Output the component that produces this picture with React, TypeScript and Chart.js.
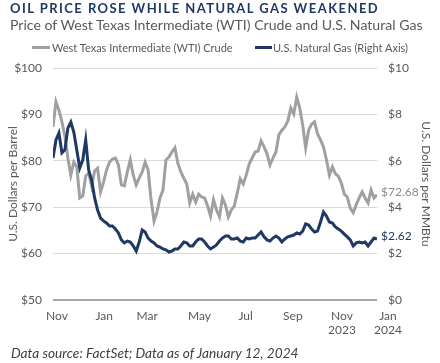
import React, { useEffect, useRef } from "react";
import { Chart, registerables } from "chart.js";

Chart.register(...registerables);

const TITLE = "OIL PRICE ROSE WHILE NATURAL GAS WEAKENED";
const SUBTITLE = "Price of West Texas Intermediate (WTI) Crude and U.S. Natural Gas";
const FOOTNOTE = "Data source: FactSet; Data as of January 12, 2024";
const seriesNames = ["West Texas Intermediate (WTI) Crude", "U.S. Natural Gas (Right Axis)"];
const leftAxisTitle = "U.S. Dollars per Barrel";
const rightAxisTitle = "U.S. Dollars per MMBtu";

// WTI crude, $/barrel (sampled roughly every 4 days, Nov 2022 – Jan 12, 2024)
const wtiCrude = [
  87.3, 92.7, 90.9, 88.4, 85.3, 80.6, 76.9, 79.7, 78.7, 72.0,
  72.4, 76.7, 77.4, 74.6, 77.8, 78.4, 73.3, 75.4, 78.0, 79.7,
  80.4, 80.6, 79.1, 74.8, 74.6, 77.6, 80.2, 76.9, 74.8, 76.3,
  77.6, 79.7, 78.0, 71.6, 67.0, 69.0, 72.0, 73.7, 80.2, 80.8,
  81.9, 82.8, 79.5, 77.6, 76.3, 75.0, 70.9, 72.8, 71.1, 72.8,
  72.2, 72.0, 70.3, 68.1, 71.6, 69.4, 67.9, 72.0, 70.5, 67.9,
  69.4, 70.3, 73.1, 76.1, 75.0, 76.9, 79.3, 80.6, 81.9, 82.1,
  84.3, 83.0, 81.5, 79.1, 80.6, 81.9, 85.6, 86.6, 87.3, 88.6,
  91.4, 90.1, 93.7, 91.4, 87.7, 82.8, 86.6, 87.9, 88.4, 85.8,
  84.5, 83.0, 80.2, 76.9, 78.7, 77.2, 76.7, 75.2, 72.8, 72.2,
  69.8, 68.8, 70.5, 72.0, 73.3, 72.0, 70.9, 73.7, 72.0, 72.68,
];

// U.S. natural gas, $/MMBtu (same sampling)
const natGas = [
  6.12, 6.90, 7.20, 6.34, 6.47, 7.41, 7.67, 7.24, 6.47, 5.69,
  6.03, 6.90, 5.60, 5.17, 4.40, 3.88, 3.53, 3.41, 3.32, 3.19,
  3.19, 3.06, 2.89, 2.59, 2.46, 2.54, 2.50, 2.33, 2.11, 2.50,
  3.02, 2.93, 2.67, 2.54, 2.46, 2.33, 2.28, 2.20, 2.16, 2.07,
  2.11, 2.20, 2.20, 2.33, 2.50, 2.46, 2.33, 2.33, 2.50, 2.63,
  2.63, 2.50, 2.33, 2.20, 2.28, 2.37, 2.54, 2.67, 2.76, 2.76,
  2.63, 2.63, 2.67, 2.54, 2.50, 2.67, 2.63, 2.67, 2.67, 2.80,
  2.93, 2.72, 2.59, 2.54, 2.67, 2.76, 2.67, 2.50, 2.63, 2.72,
  2.76, 2.80, 2.89, 2.84, 2.97, 3.28, 3.23, 3.06, 2.93, 2.97,
  3.36, 3.79, 3.62, 3.36, 3.32, 3.15, 3.06, 2.97, 2.84, 2.72,
  2.59, 2.33, 2.46, 2.50, 2.46, 2.50, 2.33, 2.50, 2.67, 2.62,
];

const xTickLabels = [["Nov"], ["Jan"], ["Mar"], ["May"], ["Jul"], ["Sep"], ["Nov", "2023"], ["Jan", "2024"]];
const xTickIndex = [1.35, 17.2, 31.7, 49.3, 64.8, 80.7, 97.2, 112.7];

const GRAY = "#a0a0a2";
const NAVY = "#1f3864";
const TEXT = "#595959";
const FONT = "Lato, 'Open Sans', sans-serif";

export default function App() {
  const ref = useRef<HTMLCanvasElement | null>(null);

  useEffect(() => {
    document.body.style.margin = "0";
    const canvas = ref.current;
    if (!canvas) return;

    const endLabels = {
      id: "endLabels",
      afterDatasetsDraw(chart: any) {
        const c = chart.ctx;
        c.save();
        c.font = `12px ${FONT}`;
        c.textAlign = "left";
        c.textBaseline = "middle";
        chart.data.datasets.forEach((ds: any, i: number) => {
          const meta = chart.getDatasetMeta(i);
          const pt = meta.data[meta.data.length - 1];
          const v = ds.data[ds.data.length - 1].y;
          c.fillStyle = ds.labelColor;
          c.fillText("$" + v.toFixed(2), chart.chartArea.right + 4, pt.y - 3);
        });
        c.restore();
      },
    };

    const chart = new Chart(canvas, {
      type: "line",
      data: {
        datasets: [
          {
            label: seriesNames[0],
            data: wtiCrude.map((v, i) => ({ x: i, y: v })),
            borderColor: GRAY,
            labelColor: "#8c8c8c",
            borderWidth: 3,
            pointRadius: 0,
            tension: 0,
            yAxisID: "y",
            order: 2,
          } as any,
          {
            label: seriesNames[1],
            data: natGas.map((v, i) => ({ x: i, y: v })),
            borderColor: NAVY,
            labelColor: NAVY,
            borderWidth: 3,
            pointRadius: 0,
            tension: 0,
            yAxisID: "y2",
            order: 1,
          } as any,
        ],
      },
      options: {
        responsive: false,
        animation: false,
        layout: { padding: { top: 68, left: 0, right: 0, bottom: 0 } },
        plugins: { legend: { display: false }, title: { display: false }, tooltip: { enabled: false } },
        scales: {
          x: {
            type: "linear",
            min: 0,
            max: wtiCrude.length - 1,
            grid: { display: false, drawTicks: false },
            border: { display: false },
            afterBuildTicks: (scale: any) => {
              scale.ticks = xTickIndex.map((v) => ({ value: v }));
            },
            afterFit: (scale: any) => {
              scale.height = 63;
            },
            ticks: {
              autoSkip: false,
              maxRotation: 0,
              padding: 10,
              color: TEXT,
              font: { family: FONT, size: 12, lineHeight: 1.1 },
              callback: (_v: any, i: number) => xTickLabels[i],
            },
          },
          y: {
            position: "left",
            min: 50,
            max: 100,
            border: { display: false },
            grid: {
              drawTicks: false,
              color: (c: any) => (c.tick && c.tick.value === 50 ? "#a6a6a6" : "#d9d9d9"),
              lineWidth: (c: any) => (c.tick && c.tick.value === 50 ? 2 : 1),
            },
            afterFit: (scale: any) => {
              scale.width = 53;
            },
            ticks: {
              stepSize: 10,
              padding: 11,
              color: TEXT,
              font: { family: FONT, size: 12 },
              callback: (v: any) => "$" + v,
            },
            title: {
              display: true,
              text: leftAxisTitle,
              color: TEXT,
              font: { family: FONT, size: 12 },
              padding: { top: 6, bottom: 0 },
            },
          },
          y2: {
            position: "right",
            min: 0,
            max: 10,
            border: { display: false },
            grid: { display: false, drawTicks: false },
            afterFit: (scale: any) => {
              scale.width = 63;
            },
            ticks: {
              stepSize: 2,
              padding: 11,
              color: TEXT,
              font: { family: FONT, size: 12 },
              callback: (v: any) => "$" + v,
            },
            title: {
              display: true,
              text: rightAxisTitle,
              color: TEXT,
              font: { family: FONT, size: 12 },
              padding: { top: 7, bottom: 0 },
            },
          },
        },
      } as any,
      plugins: [endLabels],
    });
    return () => chart.destroy();
  }, []);

  const abs = (o: any): React.CSSProperties => ({ position: "absolute", whiteSpace: "nowrap", lineHeight: 1, fontFamily: FONT, ...o });

  return (
    <div style={{ position: "relative", width: 440, height: 363, overflow: "hidden" }}>
      <canvas ref={ref} width={440} height={363} style={{ position: "absolute", left: 0, top: 0, width: 440, height: 363 }} />
      <div style={abs({ left: 10, top: 1.5, fontSize: 13, fontWeight: 700, letterSpacing: "1.45px", color: NAVY })}>{TITLE}</div>
      <div style={abs({ left: 10, top: 17.5, fontSize: 14.1, color: TEXT })}>{SUBTITLE}</div>
      <div style={abs({ left: 32, top: 46, width: 18, height: 3, background: GRAY })} />
      <div style={abs({ left: 52, top: 41.5, fontSize: 11, color: TEXT })}>{seriesNames[0]}</div>
      <div style={abs({ left: 255, top: 46, width: 17, height: 3, background: NAVY })} />
      <div style={abs({ left: 273, top: 41.5, fontSize: 11, color: TEXT })}>{seriesNames[1]}</div>
      <div style={abs({ left: 11, top: 345.5, fontSize: 13.7, fontStyle: "italic", color: "#404040" })}>{FOOTNOTE}</div>
    </div>
  );
}
